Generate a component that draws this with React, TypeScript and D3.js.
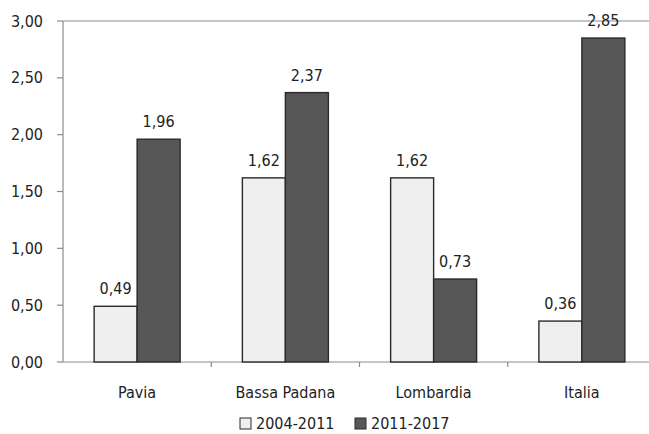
import React from "react";
import { scaleBand, scaleLinear } from "d3";

const categories = ["Pavia", "Bassa Padana", "Lombardia", "Italia"];
const seriesNames = ["2004-2011", "2011-2017"];
const values2004 = [0.49, 1.62, 1.62, 0.36];
const values2011 = [1.96, 2.37, 0.73, 2.85];
const yTicks = [0, 0.5, 1, 1.5, 2, 2.5, 3];

const colors = ["#efefef", "#575757"];
const FONT = "'Liberation Sans Narrow', 'DejaVu Sans Condensed', 'Roboto Condensed', sans-serif";

const W = 649;
const H = 434;
const left = 63;
const right = 656;
const top = 21;
const bottom = 362;

const fmt = (v: number) => v.toFixed(2).replace(".", ",");

const App: React.FC = () => {
  const x = scaleBand<string>()
    .domain(categories)
    .range([left, right])
    .paddingInner(0.42)
    .paddingOuter(0.21);
  const xs = scaleBand<string>().domain(seriesNames).range([0, x.bandwidth()]);
  const y = scaleLinear().domain([0, 3]).range([bottom, top]);
  const series = [values2004, values2011];
  const step = x.step();

  return (
    <svg
      width={W}
      height={H}
      style={{ position: "absolute", left: 0, top: 0, background: "#fff" }}
      fontFamily={FONT}
    >
      {/* top border + axes */}
      <line x1={left} x2={right} y1={top} y2={top} stroke="#8c8c8c" strokeWidth={1.2} />
      <line x1={left} x2={left} y1={top} y2={bottom} stroke="#8c8c8c" strokeWidth={1.2} />
      <line x1={left} x2={right} y1={bottom} y2={bottom} stroke="#8c8c8c" strokeWidth={1.2} />

      {yTicks.map((t) => (
        <g key={t}>
          <line x1={left - 6} x2={left} y1={y(t)} y2={y(t)} stroke="#8c8c8c" strokeWidth={1.2} />
          <text x={left - 20} y={y(t)} dy="0.35em" textAnchor="end" fontSize={16} fill="#222">
            {fmt(t)}
          </text>
        </g>
      ))}

      {categories.map((c, i) => {
        const x0 = x(c)! - (step - x.bandwidth()) / 2;
        return i > 0 ? (
          <line key={c} x1={x0} x2={x0} y1={bottom} y2={bottom + 5} stroke="#8c8c8c" strokeWidth={1.2} />
        ) : null;
      })}

      {categories.map((c, i) => (
        <g key={c}>
          {series.map((vals, s) => {
            const bx = x(c)! + xs(seriesNames[s])!;
            return (
              <g key={s}>
                <rect
                  x={bx}
                  y={y(vals[i])}
                  width={xs.bandwidth()}
                  height={bottom - y(vals[i])}
                  fill={colors[s]}
                  stroke="#2a2a2a"
                  strokeWidth={1.4}
                />
                <text
                  x={bx + xs.bandwidth() / 2}
                  y={y(vals[i]) - 12}
                  textAnchor="middle"
                  fontSize={16}
                  fill="#222"
                >
                  {fmt(vals[i])}
                </text>
              </g>
            );
          })}
          <text
            x={x(c)! + x.bandwidth() / 2}
            y={398}
            textAnchor="middle"
            fontSize={16}
            fill="#222"
          >
            {c}
          </text>
        </g>
      ))}

      {seriesNames.map((n, s) => {
        const lx = 240 + s * 115;
        return (
          <g key={n}>
            <rect x={lx} y={418} width={11} height={11} fill={colors[s]} stroke="#2a2a2a" strokeWidth={1} />
            <text x={lx + 16} y={429} fontSize={16} fill="#222">
              {n}
            </text>
          </g>
        );
      })}
    </svg>
  );
};

export default App;
